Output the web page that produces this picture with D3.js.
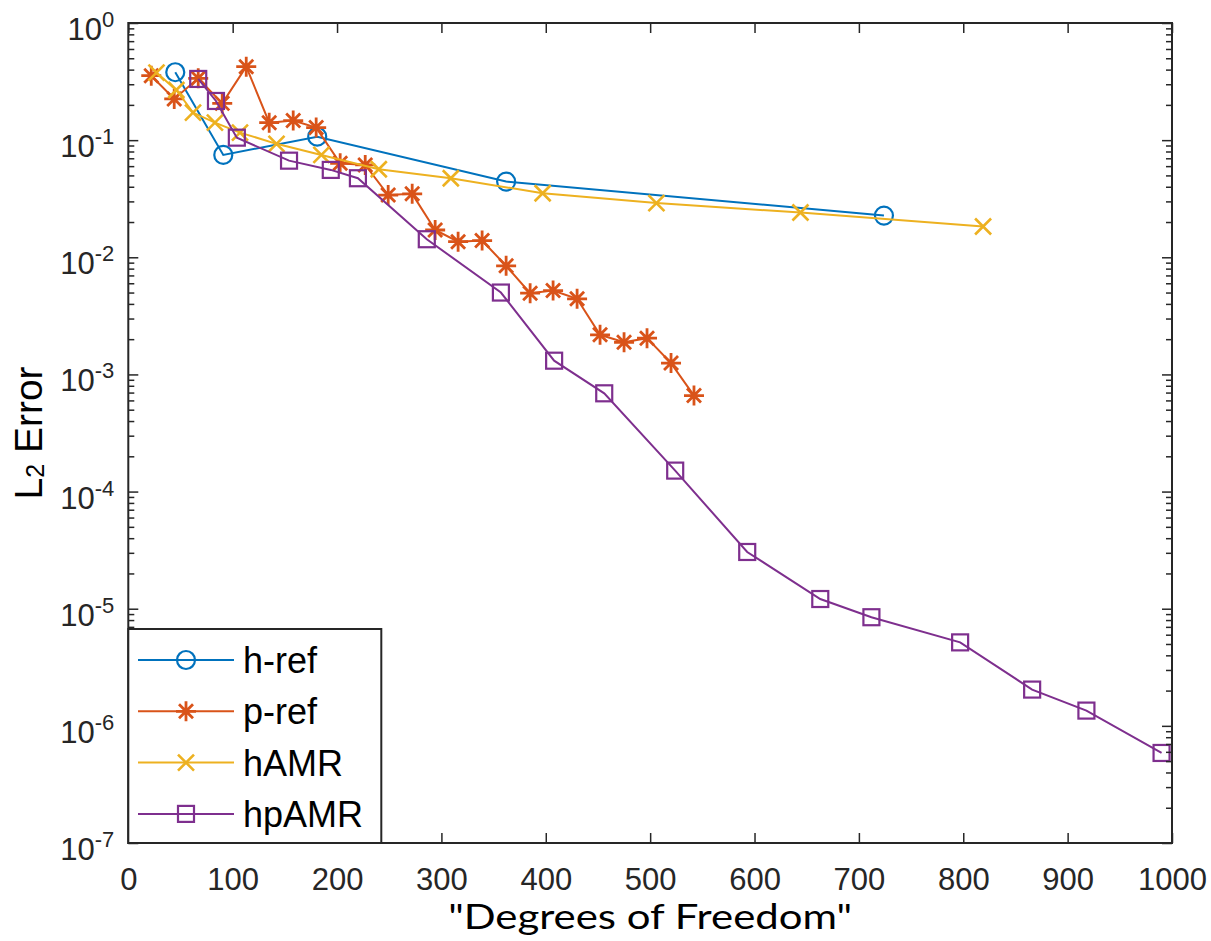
<!DOCTYPE html>
<html>
<head>
  <meta charset="utf-8">
  <title>L2 Error vs Degrees of Freedom</title>
  <style>
    body { margin: 0; background: #fff; }
    .tick-label { font-family: "Liberation Sans", Arial, sans-serif; fill: #262626; }
  </style>
</head>
<body>
  <svg id="chart"></svg>
  <script src="https://d3js.org/d3.v7.min.js"></script>
  <script>
    // data
    const hRefDof = [45, 91, 181, 362, 724];
    const hRefErr = [0.38, 0.0748, 0.107, 0.0443, 0.0227];

    const pRefDof = [22, 44, 67, 90, 113, 135, 158, 180, 203, 227, 249, 272, 294, 316, 339, 362, 385, 407, 430, 452, 475, 497, 520, 542];
    const pRefErr = [0.355, 0.225, 0.337, 0.206, 0.424, 0.141, 0.147, 0.128, 0.0635, 0.0614, 0.034, 0.0348, 0.0171, 0.0136, 0.0139, 0.00845, 0.00494, 0.0052, 0.00442, 0.00218, 0.00188, 0.00204, 0.00125, 0.00066];

    const hAmrDof = [27, 46, 62, 83, 107, 142, 185, 240, 309, 397, 506, 644, 819];
    const hAmrErr = [0.377, 0.268, 0.172, 0.141, 0.116, 0.093, 0.0748, 0.0564, 0.0473, 0.0352, 0.029, 0.0241, 0.0183];

    const hpAmrDof = [67, 84, 104, 154, 194, 220, 286, 357, 408, 456, 524, 593, 663, 712, 797, 866, 918, 990];
    const hpAmrErr = [0.333, 0.216, 0.105, 0.0668, 0.0557, 0.0473, 0.01426, 0.005, 0.00131, 0.00069, 1.51e-4, 3.05e-5, 1.21e-5, 8.46e-6, 5.16e-6, 2.04e-6, 1.35e-6, 5.87e-7];

    const seriesNames = ["h-ref", "p-ref", "hAMR", "hpAMR"];
    const xTicks = [0, 100, 200, 300, 400, 500, 600, 700, 800, 900, 1000];
    const yExponents = [0, -1, -2, -3, -4, -5, -6, -7];

    const width = 1211, height = 941;
    const margin = { top: 23, right: 39, bottom: 98, left: 128.3 };
    const axisColor = "#262626";

    const svg = d3.select("#chart")
      .attr("width", width)
      .attr("height", height);

    const x = d3.scaleLinear().domain([0, 1000]).range([margin.left, width - margin.right]);
    const y = d3.scaleLog().domain([1e-7, 1]).range([height - margin.bottom, margin.top]);

    const series = [
      { name: seriesNames[0], color: "#0072BD", marker: "circle", pts: hRefDof.map((d, i) => [d, hRefErr[i]]) },
      { name: seriesNames[1], color: "#D95319", marker: "star", pts: pRefDof.map((d, i) => [d, pRefErr[i]]) },
      { name: seriesNames[2], color: "#EDB120", marker: "cross", pts: hAmrDof.map((d, i) => [d, hAmrErr[i]]) },
      { name: seriesNames[3], color: "#7E2F8E", marker: "square", pts: hpAmrDof.map((d, i) => [d, hpAmrErr[i]]) }
    ];

    // marker drawing
    function drawMarker(g, type, color, cx, cy) {
      const m = g.append("g").attr("transform", `translate(${cx},${cy})`)
        .attr("fill", "none").attr("stroke", color).attr("stroke-width", 2.2);
      if (type === "circle") {
        m.append("circle").attr("r", 9);
      } else if (type === "square") {
        m.append("rect").attr("x", -8).attr("y", -8).attr("width", 16).attr("height", 16);
      } else if (type === "cross") {
        const s = 8;
        m.append("path").attr("d", `M${-s},${-s}L${s},${s}M${-s},${s}L${s},${-s}`).attr("stroke-width", 2.6);
      } else if (type === "star") {
        const s = 10, d = 7;
        m.append("path")
          .attr("d", `M${-s},0L${s},0M0,${-s}L0,${s}M${-d},${-d}L${d},${d}M${-d},${d}L${d},${-d}`)
          .attr("stroke-width", 2.8);
      }
    }

    // lines and markers
    const line = d3.line().x(d => x(d[0])).y(d => y(d[1]));
    series.forEach(s => {
      svg.append("path")
        .datum(s.pts)
        .attr("fill", "none")
        .attr("stroke", s.color)
        .attr("stroke-width", 2)
        .attr("d", line);
      const g = svg.append("g");
      s.pts.forEach(p => drawMarker(g, s.marker, s.color, x(p[0]), y(p[1])));
    });

    // axes (ticks inward, box on)
    const bottomY = height - margin.bottom;
    const rightX = width - margin.right;
    const majorY = yExponents.map(e => Math.pow(10, e));
    const minorY = [];
    for (let e = -7; e < 0; e++) for (let k = 2; k <= 9; k++) minorY.push(k * Math.pow(10, e));

    function styleAxis(g) {
      g.select(".domain").remove();
      g.selectAll("line").attr("stroke", axisColor).attr("stroke-width", 1.5);
    }

    const xBottom = svg.append("g")
      .attr("transform", `translate(0,${bottomY})`)
      .call(d3.axisBottom(x).tickValues(xTicks).tickSizeInner(-10).tickSizeOuter(0).tickPadding(25).tickFormat(d3.format("d")))
      .call(styleAxis);
    xBottom.selectAll("text")
      .attr("class", "tick-label")
      .style("font-size", "31px");

    svg.append("g")
      .attr("transform", `translate(0,${margin.top})`)
      .call(d3.axisTop(x).tickValues(xTicks).tickSizeInner(-10).tickSizeOuter(0).tickFormat(""))
      .call(styleAxis);

    svg.append("g")
      .attr("transform", `translate(${margin.left},0)`)
      .call(d3.axisLeft(y).tickValues(majorY).tickSizeInner(-10).tickSizeOuter(0).tickFormat(""))
      .call(styleAxis);
    svg.append("g")
      .attr("transform", `translate(${margin.left},0)`)
      .call(d3.axisLeft(y).tickValues(minorY).tickSizeInner(-6).tickSizeOuter(0).tickFormat(""))
      .call(styleAxis);
    svg.append("g")
      .attr("transform", `translate(${rightX},0)`)
      .call(d3.axisRight(y).tickValues(majorY).tickSizeInner(-10).tickSizeOuter(0).tickFormat(""))
      .call(styleAxis);
    svg.append("g")
      .attr("transform", `translate(${rightX},0)`)
      .call(d3.axisRight(y).tickValues(minorY).tickSizeInner(-6).tickSizeOuter(0).tickFormat(""))
      .call(styleAxis);

    // y tick labels as 10^n
    yExponents.forEach(e => {
      const t = svg.append("text")
        .attr("class", "tick-label")
        .attr("x", margin.left - 14)
        .attr("y", y(Math.pow(10, e)) + 17)
        .attr("text-anchor", "end")
        .style("font-size", "31px");
      t.append("tspan").text("10");
      t.append("tspan").attr("dy", -13).style("font-size", "22px").text(String(e));
    });

    // box
    svg.append("rect")
      .attr("x", margin.left).attr("y", margin.top)
      .attr("width", rightX - margin.left).attr("height", bottomY - margin.top)
      .attr("fill", "none").attr("stroke", axisColor).attr("stroke-width", 2);

    // axis titles
    svg.append("text")
      .attr("x", (margin.left + rightX) / 2)
      .attr("y", 929)
      .attr("text-anchor", "middle")
      .attr("textLength", 404)
      .attr("lengthAdjust", "spacingAndGlyphs")
      .style("font-family", "Lato, 'Open Sans', sans-serif")
      .style("font-size", "34px")
      .style("fill", "#000")
      .text("\"Degrees of Freedom\"");

    const yl = svg.append("text")
      .attr("transform", `translate(42,${(margin.top + bottomY) / 2}) rotate(-90)`)
      .attr("text-anchor", "middle")
      .style("font-family", "'Liberation Sans', Arial, sans-serif")
      .style("font-size", "39px")
      .style("fill", "#000");
    yl.append("tspan").text("L");
    yl.append("tspan").attr("dy", 2).style("font-size", "25px").text("2");
    yl.append("tspan").attr("dy", -2).text(" Error");

    // legend
    const legend = svg.append("g");
    legend.append("rect")
      .attr("x", margin.left).attr("y", 629)
      .attr("width", 253).attr("height", bottomY - 629)
      .attr("fill", "#fff").attr("stroke", axisColor).attr("stroke-width", 2);
    series.forEach((s, i) => {
      const ly = 660 + i * 51.3;
      legend.append("line")
        .attr("x1", 138).attr("x2", 234).attr("y1", ly).attr("y2", ly)
        .attr("stroke", s.color).attr("stroke-width", 2);
      drawMarker(legend, s.marker, s.color, 186, ly);
      legend.append("text")
        .attr("x", 243).attr("y", ly).attr("dy", "0.36em")
        .style("font-family", "'Liberation Sans', Arial, sans-serif")
        .style("font-size", "36px")
        .style("fill", "#000")
        .text(s.name);
    });
  </script>
</body>
</html>
